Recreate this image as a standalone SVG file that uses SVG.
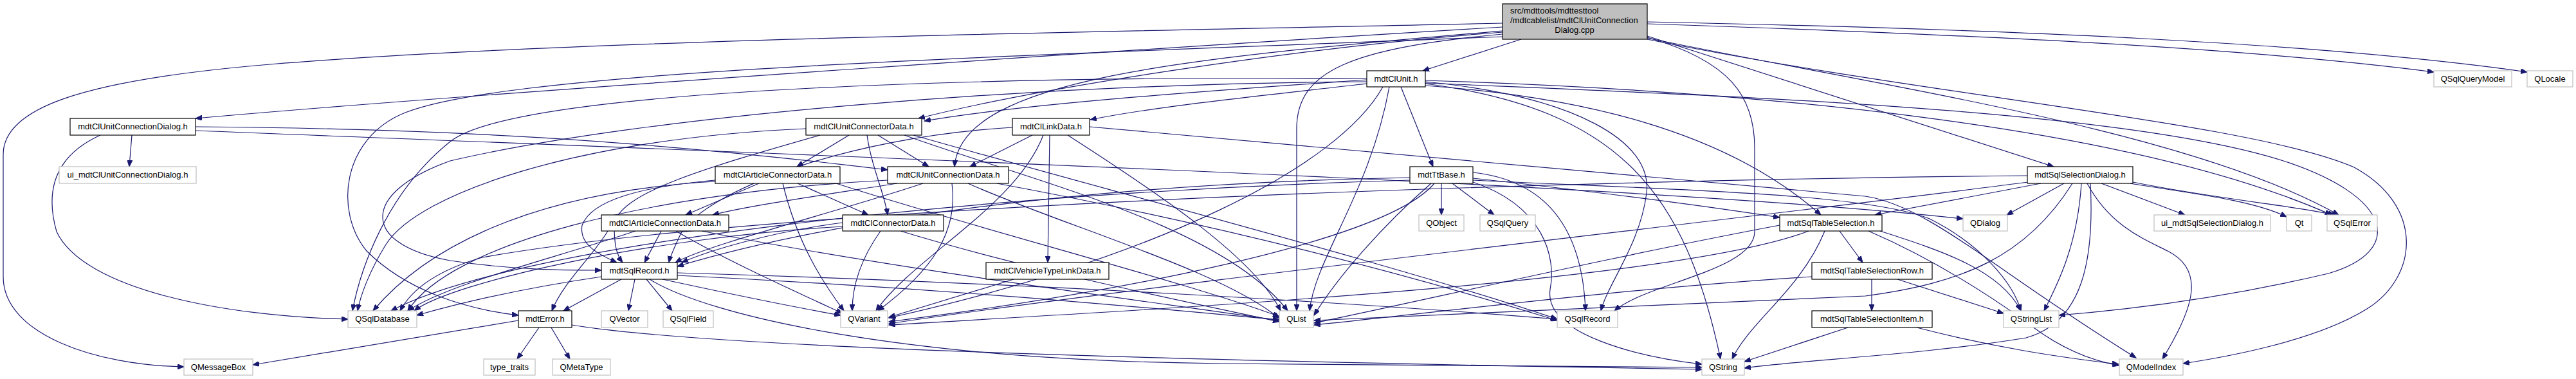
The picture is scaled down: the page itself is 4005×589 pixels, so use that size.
<svg xmlns="http://www.w3.org/2000/svg" width="4005" height="589" viewBox="0 0 4005 589">
<defs>
<marker id="a" markerWidth="11" markerHeight="8" refX="10" refY="4" orient="auto" markerUnits="userSpaceOnUse"><path d="M0,0 L10,4 L0,8 z" fill="#191970" stroke="#191970" stroke-width="1"/></marker>
</defs>
<style>
.n rect{fill:#fff;stroke:#000;stroke-width:1.2}
.x rect{fill:#fff;stroke:#bfbfbf;stroke-width:1.2}
.r rect{fill:#bfbfbf;stroke:#000;stroke-width:1.2}
text{font-family:"Liberation Sans",Arial,Helvetica,sans-serif;font-size:13px;fill:#000;text-anchor:middle}
#edges path{fill:none;stroke:#191970;stroke-width:1.2;marker-end:url(#a)}
</style>
<rect width="4005" height="589" fill="#fff"/>
<g id="edges">
<path d="M2336,42 C1900,68 800,140 304,184"/>
<path d="M2336,36 C1800,48 900,60 420,100 C120,125 5,170 5,240 L5,430 C5,520 150,568 286,570"/>
<path d="M2365,61 L2212,110"/>
<path d="M2336,50 C2000,75 1600,140 1428,184"/>
<path d="M2336,48 C1850,90 1495,120 1484,259"/>
<path d="M2336,53 C2100,75 2016,110 2016,200 L2016,483"/>
<path d="M2561,56 L3193,259"/>
<path d="M2561,59 C2900,130 3400,200 3636,334"/>
<path d="M2561,37 C3100,55 3500,75 3784,112"/>
<path d="M2561,34 C3100,45 3600,65 3929,112"/>
<path d="M2561,58 C2690,95 2728,150 2728,230 L2728,360 C2728,420 2560,440 2510,483"/>
<path d="M2561,61 C3000,150 3500,190 3660,260 C3770,320 3760,430 3680,480 C3600,530 3460,555 3394,565"/>
<path d="M2336,57 C1500,90 800,110 630,175 C530,215 520,330 570,390 C630,450 720,480 806,490"/>
<path d="M205,210 L201,259"/>
<path d="M156,210 C90,240 68,290 88,360 C130,450 350,492 541,496"/>
<path d="M304,197 C700,200 1000,218 1380,264"/>
<path d="M304,203 C1500,250 2600,290 3052,340"/>
<path d="M2125,124 C1900,140 1600,160 1437,188"/>
<path d="M2125,130 C1950,150 1800,165 1695,186"/>
<path d="M2178,135 L2228,259"/>
<path d="M2216,133 C2450,150 2680,200 2831,334"/>
<path d="M2160,135 C2130,300 2045,400 2036,483"/>
<path d="M2150,135 C2080,260 1800,400 1382,494"/>
<path d="M2216,127 C2450,150 2570,220 2560,300 C2550,380 2500,440 2489,483"/>
<path d="M2216,130 C2520,170 2620,300 2675,558"/>
<path d="M2216,125 C2700,140 3300,190 3625,334"/>
<path d="M2216,129 C2700,150 3300,170 3550,250 C3720,305 3740,390 3620,425 C3450,465 3300,482 3201,490"/>
<path d="M2125,127 C1600,130 1000,180 700,250 C560,300 560,380 700,405 C800,420 880,420 935,420"/>
<path d="M2125,122 C1500,118 800,140 700,220 C600,300 560,420 548,483"/>
<path d="M1320,210 L1239,259"/>
<path d="M1365,210 L1444,259"/>
<path d="M1348,210 C1355,260 1375,300 1380,334"/>
<path d="M1275,210 C1100,260 960,300 955,350 C955,380 958,395 968,408"/>
<path d="M1406,210 C1600,280 1900,350 2002,483"/>
<path d="M1253,200 C900,215 650,300 600,380 C575,420 560,460 556,483"/>
<path d="M1420,210 C1700,290 2200,420 2421,496"/>
<path d="M1605,210 L1508,259"/>
<path d="M1632,210 L1629,408"/>
<path d="M1622,210 C1580,320 1420,400 1362,483"/>
<path d="M1660,210 C1800,300 1950,400 1991,483"/>
<path d="M1574,198 C1300,215 1100,300 1060,360 C1048,385 1042,398 1040,408"/>
<path d="M1694,197 C2200,240 2700,290 2900,305 C3000,320 3100,420 3321,556"/>
<path d="M1180,285 L1066,334"/>
<path d="M1240,285 L1350,334"/>
<path d="M1112,280 C1000,290 920,310 905,350 C900,380 930,395 959,408"/>
<path d="M1217,285 C1240,380 1280,440 1312,483"/>
<path d="M1300,285 C1500,350 1850,440 1989,492"/>
<path d="M1112,282 C800,300 650,400 580,483"/>
<path d="M1395,285 C1300,300 1160,320 1108,334"/>
<path d="M1435,285 C1300,330 1100,380 1050,408"/>
<path d="M1480,285 C1490,360 1450,420 1365,483"/>
<path d="M1505,285 C1650,350 1900,420 1989,495"/>
<path d="M1550,285 C1900,350 2200,430 2421,498"/>
<path d="M1380,280 C1000,300 700,380 634,483"/>
<path d="M2241,285 L2241,334"/>
<path d="M2258,285 L2323,334"/>
<path d="M2225,285 C2150,350 2080,430 2043,490"/>
<path d="M2230,285 C2150,380 1700,460 1382,500"/>
<path d="M2290,268 C2400,280 2460,350 2465,483"/>
<path d="M2290,283 C2400,320 2420,400 2410,450 C2400,520 2550,555 2646,566"/>
<path d="M2290,277 C2500,300 2650,320 2767,338"/>
<path d="M2192,276 C1700,285 1300,340 1053,414"/>
<path d="M2192,280 C1500,300 800,380 608,483"/>
<path d="M2290,280 C2600,295 2900,300 3000,340 C3080,380 3130,440 3142,483"/>
<path d="M3209,285 L3120,334"/>
<path d="M3267,285 L3397,334"/>
<path d="M3312,285 C3400,300 3500,310 3555,337"/>
<path d="M3316,283 C3450,310 3570,320 3630,334"/>
<path d="M3236,285 C3230,380 3200,440 3178,483"/>
<path d="M3250,285 C3256,400 3240,500 3150,525 C3000,550 2800,560 2712,572"/>
<path d="M3222,285 C3150,400 3050,440 2900,460 C2500,480 2200,490 2043,498"/>
<path d="M3245,285 C3280,350 3330,370 3370,390 C3430,420 3410,480 3362,558"/>
<path d="M3173,285 L2915,334"/>
<path d="M3152,273 C2400,280 1200,320 750,400 C680,420 640,450 622,483"/>
<path d="M3160,282 C2800,330 1800,440 1382,503"/>
<path d="M1028,359 L1002,408"/>
<path d="M1051,359 C1120,400 1230,450 1310,487"/>
<path d="M1091,359 C1400,420 1800,470 1989,498"/>
<path d="M988,359 C850,405 700,440 634,483"/>
<path d="M945,359 C920,400 875,440 858,483"/>
<path d="M1310,346 C1200,360 1100,390 1060,408"/>
<path d="M1369,359 C1340,400 1325,440 1325,483"/>
<path d="M1400,359 C1600,420 1850,470 1989,500"/>
<path d="M1310,352 C1000,370 700,440 644,483"/>
<path d="M2860,359 L2896,408"/>
<path d="M2837,359 C2800,450 2720,500 2693,558"/>
<path d="M2923,359 C3020,390 3110,420 3142,483"/>
<path d="M2905,359 C3000,400 3080,450 3150,500 C3200,540 3250,560 3294,568"/>
<path d="M2767,350 C2500,400 2200,470 2043,502"/>
<path d="M2812,359 C2600,440 1800,480 1382,505"/>
<path d="M966,434 L876,483"/>
<path d="M935,430 C800,450 700,475 648,490"/>
<path d="M987,434 L977,483"/>
<path d="M1005,434 L1045,483"/>
<path d="M1030,434 C1150,460 1250,480 1307,490"/>
<path d="M1053,424 C1600,440 2100,470 2421,496"/>
<path d="M1010,434 C1100,490 1400,560 1900,565 C2200,568 2500,570 2646,571"/>
<path d="M1053,428 C1500,450 1800,480 1989,497"/>
<path d="M1576,434 L1382,493"/>
<path d="M2910,434 L2910,483"/>
<path d="M2950,434 L3115,487"/>
<path d="M2817,430 C2500,450 2200,490 2043,505"/>
<path d="M2873,509 L2712,562"/>
<path d="M2980,509 C3100,540 3200,555 3294,566"/>
<path d="M806,498 L393,567"/>
<path d="M838,509 L804,558"/>
<path d="M857,509 L886,558"/>
<path d="M889,505 C1100,540 1800,560 2646,574"/>
</g>
<g id="root" class="r"><rect x="2336" y="6" width="225" height="55"/><text x="2348" y="21" style="text-anchor:start">src/mdttools/mdttesttool</text><text x="2348" y="36" style="text-anchor:start">/mdtcablelist/mdtClUnitConnection</text><text x="2448" y="51">Dialog.cpp</text></g>
<g id="mdtClUnit" class="n"><rect x="2125" y="110" width="91" height="25"/><text x="2170.5" y="127">mdtClUnit.h</text></g>
<g id="QSqlQueryModel" class="x"><rect x="3784" y="110" width="121" height="25"/><text x="3844.5" y="127">QSqlQueryModel</text></g>
<g id="QLocale" class="x"><rect x="3929" y="110" width="71" height="25"/><text x="3964.5" y="127">QLocale</text></g>
<g id="mdtClUnitConnectionDialog" class="n"><rect x="109" y="184" width="195" height="26"/><text x="206.5" y="201">mdtClUnitConnectionDialog.h</text></g>
<g id="mdtClUnitConnectorData" class="n"><rect x="1253" y="184" width="180" height="26"/><text x="1343" y="201">mdtClUnitConnectorData.h</text></g>
<g id="mdtClLinkData" class="n"><rect x="1574" y="184" width="120" height="26"/><text x="1634" y="201">mdtClLinkData.h</text></g>
<g id="ui_mdtClUnitConnectionDialog" class="x"><rect x="92" y="259" width="213" height="26"/><text x="198.5" y="276">ui_mdtClUnitConnectionDialog.h</text></g>
<g id="mdtClArticleConnectorData" class="n"><rect x="1112" y="259" width="194" height="26"/><text x="1209" y="276">mdtClArticleConnectorData.h</text></g>
<g id="mdtClUnitConnectionData" class="n"><rect x="1380" y="259" width="188" height="26"/><text x="1474" y="276">mdtClUnitConnectionData.h</text></g>
<g id="mdtTtBase" class="n"><rect x="2192" y="259" width="98" height="26"/><text x="2241" y="276">mdtTtBase.h</text></g>
<g id="mdtSqlSelectionDialog" class="n"><rect x="3152" y="259" width="164" height="26"/><text x="3234" y="276">mdtSqlSelectionDialog.h</text></g>
<g id="mdtClArticleConnectionData" class="n"><rect x="935" y="334" width="198" height="25"/><text x="1034" y="351">mdtClArticleConnectionData.h</text></g>
<g id="mdtClConnectorData" class="n"><rect x="1310" y="334" width="157" height="25"/><text x="1388.5" y="351">mdtClConnectorData.h</text></g>
<g id="QObject" class="x"><rect x="2206" y="334" width="70" height="25"/><text x="2241" y="351">QObject</text></g>
<g id="QSqlQuery" class="x"><rect x="2301" y="334" width="86" height="25"/><text x="2344" y="351">QSqlQuery</text></g>
<g id="mdtSqlTableSelection" class="n"><rect x="2767" y="334" width="159" height="25"/><text x="2846.5" y="351">mdtSqlTableSelection.h</text></g>
<g id="QDialog" class="x"><rect x="3052" y="334" width="69" height="25"/><text x="3086.5" y="351">QDialog</text></g>
<g id="ui_mdtSqlSelectionDialog" class="x"><rect x="3349" y="334" width="181" height="25"/><text x="3439.5" y="351">ui_mdtSqlSelectionDialog.h</text></g>
<g id="Qt" class="x"><rect x="3555" y="334" width="39" height="25"/><text x="3574.5" y="351">Qt</text></g>
<g id="QSqlError" class="x"><rect x="3618" y="334" width="78" height="25"/><text x="3657" y="351">QSqlError</text></g>
<g id="mdtSqlRecord" class="n"><rect x="935" y="408" width="118" height="26"/><text x="994" y="425">mdtSqlRecord.h</text></g>
<g id="mdtClVehicleTypeLinkData" class="n"><rect x="1533" y="408" width="191" height="26"/><text x="1628.5" y="425">mdtClVehicleTypeLinkData.h</text></g>
<g id="mdtSqlTableSelectionRow" class="n"><rect x="2817" y="408" width="187" height="26"/><text x="2910.5" y="425">mdtSqlTableSelectionRow.h</text></g>
<g id="QSqlDatabase" class="x"><rect x="541" y="483" width="107" height="26"/><text x="594.5" y="500">QSqlDatabase</text></g>
<g id="mdtError" class="n"><rect x="806" y="483" width="83" height="26"/><text x="847.5" y="500">mdtError.h</text></g>
<g id="QVector" class="x"><rect x="935" y="483" width="72" height="26"/><text x="971" y="500">QVector</text></g>
<g id="QSqlField" class="x"><rect x="1031" y="483" width="78" height="26"/><text x="1070" y="500">QSqlField</text></g>
<g id="QVariant" class="x"><rect x="1307" y="483" width="73" height="26"/><text x="1343.5" y="500">QVariant</text></g>
<g id="QList" class="x"><rect x="1989" y="483" width="53" height="26"/><text x="2015.5" y="500">QList</text></g>
<g id="QSqlRecord" class="x"><rect x="2421" y="483" width="94" height="26"/><text x="2468" y="500">QSqlRecord</text></g>
<g id="mdtSqlTableSelectionItem" class="n"><rect x="2817" y="483" width="187" height="26"/><text x="2910.5" y="500">mdtSqlTableSelectionItem.h</text></g>
<g id="QStringList" class="x"><rect x="3115" y="483" width="86" height="26"/><text x="3158" y="500">QStringList</text></g>
<g id="QMessageBox" class="x"><rect x="286" y="558" width="107" height="25"/><text x="339.5" y="575">QMessageBox</text></g>
<g id="type_traits" class="x"><rect x="752" y="558" width="80" height="25"/><text x="792" y="575">type_traits</text></g>
<g id="QMetaType" class="x"><rect x="859" y="558" width="90" height="25"/><text x="904" y="575">QMetaType</text></g>
<g id="QString" class="x"><rect x="2646" y="558" width="66" height="25"/><text x="2679" y="575">QString</text></g>
<g id="QModelIndex" class="x"><rect x="3295" y="558" width="99" height="25"/><text x="3344.5" y="575">QModelIndex</text></g>
</svg>
